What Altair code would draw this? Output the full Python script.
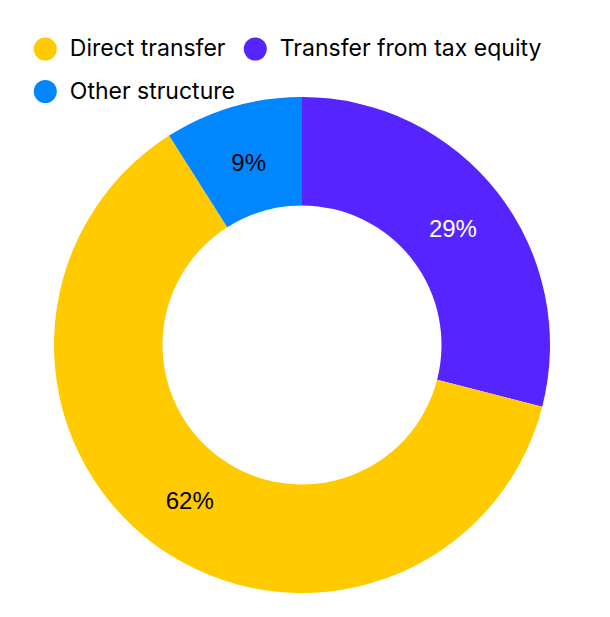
import altair as alt
import pandas as pd

categories = ["Transfer from tax equity", "Direct transfer", "Other structure"]
shares = [29, 62, 9]
labels = ["29%", "62%", "9%"]
order = [0, 1, 2]

legend_order = ["Direct transfer", "Transfer from tax equity", "Other structure"]
colors = ["#FFCA00", "#5524FF", "#0087FF"]

df = pd.DataFrame({"category": categories, "share": shares, "label": labels, "ord": order})

LEGEND_FONT = "Inter"
LABEL_FONT = "Liberation Sans"

base = alt.Chart(df).encode(
    theta=alt.Theta("share:Q", stack=True),
    order=alt.Order("ord:Q", sort="ascending"),
)

arcs = base.mark_arc(outerRadius=248, innerRadius=139.5).encode(
    x=alt.value(294),
    y=alt.value(337),
    color=alt.Color(
        "category:N",
        scale=alt.Scale(domain=legend_order, range=colors),
        legend=alt.Legend(
            title=None,
            orient="none",
            direction="horizontal",
            legendX=25.8,
            legendY=29.5,
            columns=2,
            gridAlign="none",
            symbolType="circle",
            symbolSize=529,
            symbolStrokeWidth=0,
            labelFontSize=23,
            labelFont=LEGEND_FONT,
            labelColor="#000000",
            labelOffset=13,
            columnPadding=8,
            rowPadding=18.5,
            padding=0,
            labelLimit=400,
        ),
    ),
)

text = base.mark_text(radius=191, fontSize=24, font=LABEL_FONT).encode(
    x=alt.value(294),
    y=alt.value(339),
    text="label:N",
    color=alt.condition(
        alt.datum.category == "Transfer from tax equity",
        alt.value("#FFFFFF"),
        alt.value("#000000"),
    ),
)

chart = alt.layer(arcs, text).properties(
    width=594,
    height=601,
    autosize=alt.AutoSizeParams(type="none"),
    padding=0,
).configure_view(stroke=None)

chart.save("out.html", embed_options={"renderer": "svg", "actions": False})
